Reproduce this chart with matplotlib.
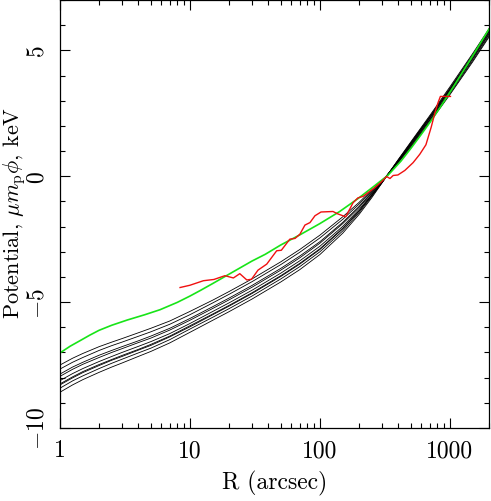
import matplotlib
matplotlib.use('Agg')
import matplotlib.pyplot as plt
from matplotlib.ticker import FixedLocator, FixedFormatter, MultipleLocator

plt.rcParams['font.family'] = 'serif'
plt.rcParams['font.serif'] = ['cmr10']
plt.rcParams['mathtext.fontset'] = 'cm'
plt.rcParams['axes.formatter.use_mathtext'] = True

# model potentials (black)
r_model = [1, 1.25, 1.5, 2, 2.5, 3, 4, 5, 7, 10, 15, 20, 30, 50, 70, 100, 150, 200, 250, 300, 400, 500, 700, 1000, 1500, 2000]
models = [
    [-7.50, -7.23, -7.04, -6.77, -6.59, -6.45, -6.22, -6.04, -5.75, -5.37, -4.92, -4.58, -4.08, -3.40, -2.91, -2.34, -1.61, -1.04, -0.55, -0.19, 0.53, 1.15, 2.14, 3.24, 4.55, 5.53],
    [-7.66, -7.39, -7.20, -6.92, -6.73, -6.59, -6.36, -6.18, -5.88, -5.50, -5.03, -4.69, -4.19, -3.51, -3.02, -2.45, -1.71, -1.11, -0.60, -0.20, 0.55, 1.18, 2.18, 3.29, 4.60, 5.58],
    [-7.86, -7.58, -7.39, -7.11, -6.92, -6.77, -6.54, -6.35, -6.04, -5.65, -5.18, -4.84, -4.34, -3.66, -3.17, -2.60, -1.83, -1.20, -0.65, -0.21, 0.58, 1.22, 2.23, 3.34, 4.66, 5.64],
    [-7.95, -7.67, -7.47, -7.20, -7.00, -6.85, -6.61, -6.43, -6.11, -5.72, -5.25, -4.91, -4.41, -3.73, -3.24, -2.66, -1.88, -1.24, -0.68, -0.22, 0.59, 1.24, 2.25, 3.37, 4.69, 5.67],
    [-8.12, -7.84, -7.64, -7.36, -7.16, -7.00, -6.76, -6.57, -6.25, -5.85, -5.37, -5.03, -4.53, -3.85, -3.36, -2.78, -1.99, -1.32, -0.73, -0.24, 0.61, 1.27, 2.30, 3.42, 4.74, 5.72],
    [-8.25, -7.97, -7.76, -7.48, -7.28, -7.12, -6.88, -6.68, -6.35, -5.94, -5.47, -5.13, -4.63, -3.95, -3.46, -2.88, -2.06, -1.38, -0.76, -0.25, 0.62, 1.30, 2.33, 3.45, 4.78, 5.76],
    [-8.29, -8.01, -7.80, -7.52, -7.31, -7.16, -6.91, -6.72, -6.38, -5.98, -5.50, -5.16, -4.66, -3.98, -3.49, -2.91, -2.09, -1.39, -0.77, -0.25, 0.63, 1.31, 2.34, 3.46, 4.79, 5.77],
    [-8.42, -8.13, -7.93, -7.64, -7.43, -7.27, -7.02, -6.83, -6.49, -6.07, -5.60, -5.26, -4.76, -4.08, -3.59, -3.00, -2.17, -1.45, -0.81, -0.26, 0.64, 1.33, 2.37, 3.50, 4.83, 5.81],
    [-8.58, -8.29, -8.08, -7.79, -7.58, -7.42, -7.16, -6.96, -6.62, -6.20, -5.72, -5.38, -4.88, -4.20, -3.71, -3.11, -2.26, -1.52, -0.86, -0.27, 0.66, 1.36, 2.41, 3.55, 4.88, 5.86],
]

# green curve
r_green = [1, 1.2, 1.43, 1.7, 2, 2.5, 3.3, 4.5, 5.9, 8, 10, 12, 15, 20, 30, 38, 50, 70, 100, 142, 196, 250, 334, 420, 500, 600, 718, 850, 1063, 1500, 2000]
phi_green = [-7.02, -6.75, -6.53, -6.31, -6.12, -5.92, -5.71, -5.50, -5.30, -5.01, -4.76, -4.54, -4.26, -3.89, -3.37, -3.10, -2.73, -2.33, -1.88, -1.40, -0.89, -0.47, 0.04, 0.60, 1.10, 1.65, 2.21, 2.77, 3.55, 4.79, 5.85]

# red (data) curve
r_red = [8.4, 10, 12.7, 15.3, 18.6, 21.6, 24.2, 27.4, 29.8, 33.4, 39, 46.5, 50.5, 58.7, 64.4, 70.2,
         76.7, 83.9, 91.6, 102, 126, 138, 158, 180, 196, 215, 242, 265, 296, 326, 346, 366, 398,
         450, 521, 586, 654, 718, 770, 810, 845, 1010]
phi_red = [-4.42, -4.33, -4.15, -4.10, -3.95, -4.04, -3.87, -4.12, -4.09, -3.73, -3.49, -2.96, -2.94, -2.50, -2.47, -2.30,
           -1.94, -1.84, -1.57, -1.42, -1.40, -1.50, -1.61, -1.05, -0.86, -0.80, -0.60, -0.45, -0.23, -0.01, -0.09, 0.03, 0.05,
           0.23, 0.54, 0.87, 1.25, 1.95, 2.55, 2.92, 3.17, 3.17]

x_ticks = [1, 10, 100, 1000]
x_ticklabels = ['1', '10', '100', '1000']
y_ticks = [-10, -5, 0, 5]
y_ticklabels = [r'$-10$', r'$-5$', r'$0$', r'$5$']

fig = plt.figure(figsize=(4.91, 5.02), dpi=100)
ax = fig.add_axes([0.122, 0.1454, 0.874, 0.8526])

for m in models:
    ax.plot(r_model, m, color='black', lw=0.6)
ax.plot(r_green, phi_green, color='#18e418', lw=1.2)
ax.plot(r_red, phi_red, color='#f01010', lw=1.0)

ax.set_xscale('log')
ax.set_xlim(1, 2000)
ax.set_ylim(-10, 7)

minors = [m * 10 ** k for k in range(4) for m in range(2, 10)]
ax.xaxis.set_major_locator(FixedLocator(x_ticks))
ax.xaxis.set_major_formatter(FixedFormatter(x_ticklabels))
ax.xaxis.set_minor_locator(FixedLocator(minors))
ax.xaxis.set_minor_formatter(FixedFormatter([]))
ax.yaxis.set_major_locator(FixedLocator(y_ticks))
ax.yaxis.set_major_formatter(FixedFormatter(y_ticklabels))
ax.yaxis.set_minor_locator(MultipleLocator(1))

ax.tick_params(which='both', direction='in', top=True, right=True, width=0.8, labelsize=17)
ax.tick_params(which='major', length=7)
ax.tick_params(which='minor', length=3.6)
ax.tick_params(axis='x', pad=8)
ax.tick_params(axis='y', pad=8)
for lab in ax.get_yticklabels():
    lab.set_rotation(90)
    lab.set_va('center')

for s in ax.spines.values():
    s.set_linewidth(0.9)

ax.set_xlabel('R (arcsec)', fontsize=17, labelpad=6)
# y label placed by hand so it stays inside the left edge
fig.text(0.003, 0.575, r'Potential, $\mu m_{\rm p}\phi$, keV', fontsize=16,
         rotation=90, ha='left', va='center')

fig.savefig('out.png', dpi=100)
